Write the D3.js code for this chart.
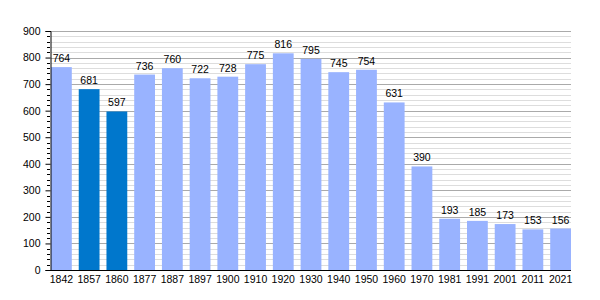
<!DOCTYPE html>
<html>
<head>
<meta charset="utf-8">
<script src="https://cdn.jsdelivr.net/npm/d3@7"></script>
<style>
body{margin:0;background:#fff;}
text{font-family:"Liberation Sans",Arial,sans-serif;font-size:10.5px;fill:#000;}
</style>
</head>
<body>
<svg id="chart" width="600" height="300"></svg>
<script>
// population by census year
var years = ["1842","1857","1860","1877","1887","1897","1900","1910","1920","1930","1940","1950","1960","1970","1981","1991","2001","2011","2021"];
var population = [764,681,597,736,760,722,728,775,816,795,745,754,631,390,193,185,173,153,156];
var highlighted = ["1857","1860"];
var yTicks = [0,100,200,300,400,500,600,700,800,900];

var svg = d3.select('#chart');
// plot box (don't use "top": it clashes with window.top)
var plotL = 50, plotR = 571, plotT = 31, plotB = 270;

var x = d3.scaleBand().domain(years).range([plotL+1, plotR]).paddingInner(0.25).paddingOuter(0);
var y = d3.scaleLinear().domain([0, 900]).range([plotB, plotT]);

// minor grid every 20
var minor = d3.range(20, 901, 20).filter(function(v){ return v % 100 != 0; });
svg.append('g').selectAll('line').data(minor).enter().append('line')
	.attr('x1', plotL+1).attr('x2', plotR)
	.attr('y1', function(d){ return Math.round(y(d))+0.5; })
	.attr('y2', function(d){ return Math.round(y(d))+0.5; })
	.attr('stroke', '#dddddd');
svg.append('g').selectAll('line').data(yTicks.slice(1)).enter().append('line')
	.attr('x1', plotL+1).attr('x2', plotR)
	.attr('y1', function(d){ return Math.round(y(d))+0.5; })
	.attr('y2', function(d){ return Math.round(y(d))+0.5; })
	.attr('stroke', '#aaaaaa');

// bars
svg.append('g').selectAll('rect').data(years).enter().append('rect')
	.attr('x', function(d){ return x(d); })
	.attr('width', x.bandwidth())
	.attr('y', function(d, i){ return y(population[i]); })
	.attr('height', function(d, i){ return plotB - y(population[i]); })
	.attr('fill', function(d){ return highlighted.indexOf(d) >= 0 ? '#0077cc' : '#99b3ff'; });

// value labels
svg.append('g').selectAll('text').data(years).enter().append('text')
	.attr('x', function(d){ return x(d) + x.bandwidth()/2; })
	.attr('y', function(d, i){ return y(population[i]) - 5; })
	.attr('text-anchor', 'middle')
	.text(function(d, i){ return population[i]; });

// y axis
var yAxis = d3.axisLeft(y).tickValues(yTicks).tickSize(5).tickPadding(5);
var gy = svg.append('g').attr('transform', 'translate(' + (plotL+0.5) + ',0)').call(yAxis);
gy.select('.domain').attr('stroke', '#000');
gy.selectAll('text').style('font-size', '10.5px').attr('fill', '#000');
gy.selectAll('.tick line').attr('stroke', '#000');
svg.append('g').selectAll('line').data(minor).enter().append('line')
	.attr('x1', plotL-3).attr('x2', plotL)
	.attr('y1', function(d){ return Math.round(y(d))+0.5; })
	.attr('y2', function(d){ return Math.round(y(d))+0.5; })
	.attr('stroke', '#000');

// x axis
var xAxis = d3.axisBottom(x).tickSize(0).tickPadding(5);
var gx = svg.append('g').attr('transform', 'translate(0,' + (plotB+0.5) + ')').call(xAxis);
gx.select('.domain').attr('d', 'M' + plotL + ',0H' + plotR).attr('stroke', '#000');
gx.selectAll('text').style('font-size', '10.5px').attr('fill', '#000');
</script>
</body>
</html>
